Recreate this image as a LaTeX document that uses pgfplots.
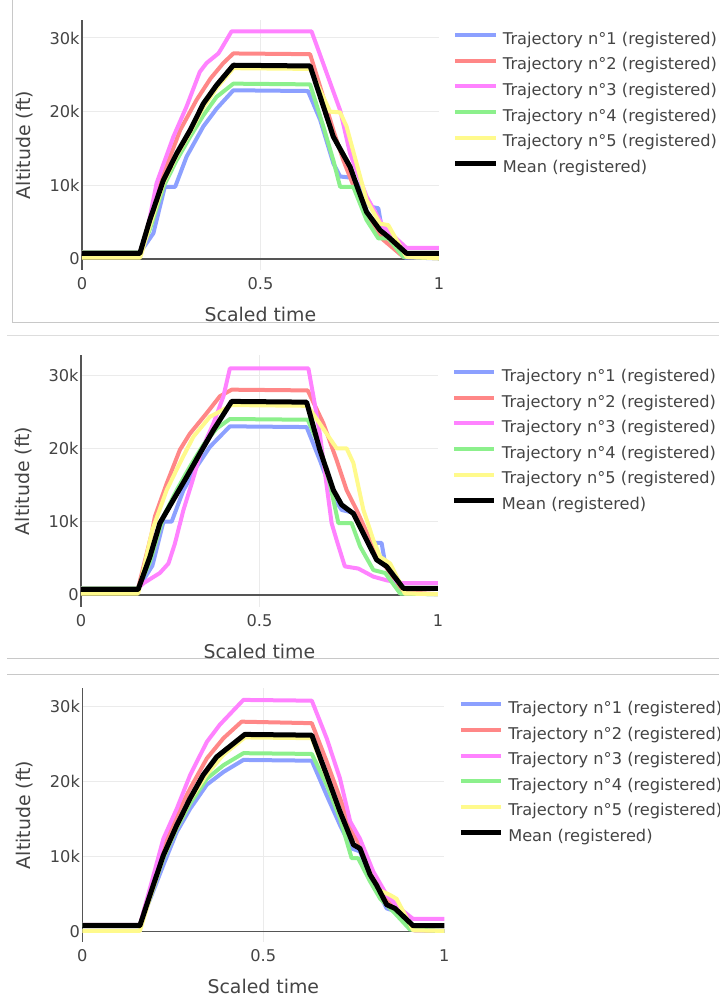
\documentclass[border=0pt]{standalone}
\usepackage{fontspec}
\setmainfont{DejaVu Sans}
\usepackage{pgfplots}
\pgfplotsset{compat=1.18}

\definecolor{textgray}{HTML}{444444}
\definecolor{axisgray}{HTML}{555555}
\definecolor{gridgray}{HTML}{EBEBEB}
\definecolor{framegray}{HTML}{C8C8C8}
\definecolor{framelight}{HTML}{DDDDDD}
\definecolor{tblue}{RGB}{140,160,255}
\definecolor{tred}{RGB}{255,135,135}
\definecolor{tmag}{RGB}{255,130,255}
\definecolor{tgreen}{RGB}{140,240,140}
\definecolor{tyellow}{RGB}{255,250,140}

\newcommand\tickfont{\fontsize{8.1}{9.7}\selectfont}
\newcommand\labelfont{\fontsize{9.45}{11.3}\selectfont}

\pgfplotsset{
  panel/.style={
    scale only axis, xmin=0, xmax=1,
    axis lines*=left,
    x axis line style={draw=none},
    y axis line style={draw=axisgray, line width=0.6pt},
    xtick={0,0.5,1}, xticklabels={0,0.5,1},
    ytick={0,10,20,30}, yticklabels={0,10k,20k,30k},
    major tick length=0pt,
    ymajorgrids, grid style={draw=gridgray, line width=0.5pt},
    extra x ticks={0.5}, extra x tick labels={},
    extra x tick style={grid=major},
    extra y ticks={0}, extra y tick labels={},
    extra y tick style={grid=major, major grid style={draw=axisgray, line width=0.6pt}},
    ticklabel style={font=\tickfont, text=textgray},
    yticklabel style={anchor=east, inner sep=0pt, xshift=-1pt},
    xticklabel style={anchor=center, inner sep=0pt, yshift=-7pt},
    xlabel={Scaled time}, ylabel={Altitude (ft)},
    xlabel style={at={(axis description cs:0.5,0)}, anchor=center, yshift=-22pt, font=\labelfont, text=textgray},
    ylabel style={at={(axis description cs:-0.16,0.5)}, anchor=center, font=\labelfont, text=textgray},
    legend style={at={(axis description cs:1,1)}, anchor=north west, xshift=7pt, yshift=-6.2pt,
      draw=none, fill=none, inner sep=0pt, outer sep=0pt, row sep=4.8pt, font=\tickfont,
      nodes={inner sep=0pt, text height=6pt, text depth=2pt, text=textgray},
      /tikz/every odd column/.append style={column sep=2.5pt}},
    legend cell align=left,
    legend image code/.code={\draw[#1, line cap=butt] (0pt,2.6pt) -- (20pt,2.6pt);},
    every axis plot/.append style={line join=round, line cap=round},
    tb/.style={tblue, line width=2pt},
    tr/.style={tred, line width=2pt},
    tm/.style={tmag, line width=2pt},
    tg/.style={tgreen, line width=2pt},
    ty/.style={tyellow, line width=2pt},
    tk/.style={black, line width=2.5pt},
  }
}

\begin{document}
\begin{tikzpicture}
% panel frames
\draw[framegray, line width=0.5pt] (6pt,499pt) -- (6pt,337.5pt) -- (359.5pt,337.5pt);
\draw[framelight, line width=0.5pt] (3.5pt,331pt) -- (359.5pt,331pt);
\draw[framegray, line width=0.5pt] (3.5pt,169.5pt) -- (359.5pt,169.5pt);
\draw[framegray, line width=0.5pt] (3.5pt,161.5pt) -- (359.5pt,161.5pt);

% panel 1
\begin{axis}[panel, at={(41pt,364pt)}, anchor=south west,
  width=178.5pt, height=125pt, ymin=-1.49, ymax=32.44]
\addplot[tb] coordinates {(0,0.9)(0.163,0.9)(0.2,3.5)(0.232,9.8)(0.261,9.8)(0.293,13.9)(0.34,18)(0.377,20.4)(0.424,22.9)(0.633,22.8)(0.667,18.9)(0.704,13)(0.723,11.2)(0.76,11)(0.774,10)(0.807,7.1)(0.83,6.9)(0.839,4.4)(0.867,2.6)(0.905,0.2)(1,0.1)};
\addplot[tr] coordinates {(0,0.9)(0.163,0.9)(0.2,7)(0.228,11.5)(0.275,17.5)(0.321,21.6)(0.36,24.5)(0.396,26.6)(0.424,27.9)(0.639,27.8)(0.667,23.4)(0.704,17.5)(0.732,13.4)(0.769,8.9)(0.797,5.7)(0.844,2.6)(0.9,0.3)(1,0.1)};
\addplot[tm] coordinates {(0,0.9)(0.163,0.9)(0.181,3.5)(0.209,10.3)(0.256,16.6)(0.293,20.7)(0.33,25.4)(0.349,26.6)(0.382,27.9)(0.391,28.6)(0.419,30.9)(0.643,30.9)(0.723,20.2)(0.751,14.3)(0.797,8.5)(0.844,4.4)(0.909,1.5)(1,1.5)};
\addplot[tg] coordinates {(0,0.9)(0.163,0.9)(0.19,4)(0.228,9.8)(0.265,13.4)(0.303,16.6)(0.34,19.5)(0.377,22)(0.424,23.8)(0.639,23.7)(0.676,18)(0.704,13.4)(0.723,9.8)(0.76,9.8)(0.797,5.3)(0.83,2.8)(0.858,2.8)(0.9,0.3)(1,0.1)};
\addplot[ty] coordinates {(0,0.2)(0.163,0.2)(0.19,4.5)(0.228,10.3)(0.265,14)(0.303,17.2)(0.34,20.6)(0.377,23.2)(0.424,25.9)(0.639,25.8)(0.695,20)(0.723,19.9)(0.741,18)(0.779,11.2)(0.797,8)(0.835,4.8)(0.858,4.6)(0.881,2.6)(0.909,0.3)(1,0.1)};
\addplot[tk] coordinates {(0,0.75)(0.162,0.75)(0.19,5.3)(0.228,10.7)(0.265,14.3)(0.303,17.5)(0.34,21.1)(0.377,23.6)(0.424,26.3)(0.639,26.2)(0.704,16.6)(0.751,12.5)(0.774,9.4)(0.797,6.4)(0.835,3.9)(0.858,3.0)(0.909,0.77)(1,0.77)};
\legend{Trajectory n°1 (registered),Trajectory n°2 (registered),Trajectory n°3 (registered),Trajectory n°4 (registered),Trajectory n°5 (registered),Mean (registered)}
\end{axis}

% panel 2
\begin{axis}[panel, at={(40.5pt,195.5pt)}, anchor=south west,
  width=178.5pt, height=126pt, ymin=-1.64, ymax=32.73,
  legend style={yshift=-1pt}]
\addplot[tb] coordinates {(0,0.9)(0.16,0.9)(0.2,4)(0.231,10)(0.254,10)(0.287,14.3)(0.324,17.5)(0.361,20.2)(0.417,23)(0.632,22.9)(0.669,18.4)(0.707,13.4)(0.73,11.6)(0.772,11.1)(0.8,8)(0.824,7.1)(0.842,7.1)(0.852,4.3)(0.88,2.5)(0.905,0.2)(1,0.1)};
\addplot[tr] coordinates {(0,0.9)(0.16,0.9)(0.198,8.4)(0.207,10.7)(0.24,15.2)(0.277,19.8)(0.305,22)(0.352,24.8)(0.389,27.1)(0.422,28)(0.635,27.9)(0.679,23.4)(0.716,18.4)(0.744,14.3)(0.772,11.6)(0.81,7.5)(0.847,4.3)(0.903,0.4)(1,0.1)};
\addplot[tm] coordinates {(0,0.9)(0.16,0.9)(0.175,1.6)(0.221,3)(0.245,4.3)(0.263,7)(0.287,11.6)(0.31,15.2)(0.338,19.8)(0.371,23.4)(0.399,27.1)(0.417,30.9)(0.637,30.9)(0.651,27.1)(0.669,22)(0.702,9.8)(0.716,7.5)(0.739,3.9)(0.777,3.6)(0.819,2.5)(0.856,2)(0.903,1.6)(1,1.6)};
\addplot[tg] coordinates {(0,0.9)(0.16,0.9)(0.193,4.5)(0.231,10.7)(0.268,14.3)(0.305,17.5)(0.343,20.5)(0.38,22.7)(0.417,24)(0.635,23.9)(0.669,20.2)(0.697,15.2)(0.721,9.8)(0.758,9.8)(0.782,6.6)(0.819,3.4)(0.852,3)(0.894,0.2)(1,0.1)};
\addplot[ty] coordinates {(0,0.2)(0.16,0.2)(0.2,8.9)(0.24,14.3)(0.277,18)(0.315,21.6)(0.361,24.3)(0.422,25.9)(0.635,25.8)(0.688,22)(0.716,20)(0.744,20)(0.763,18)(0.791,11.6)(0.819,7.5)(0.838,5.2)(0.866,4.3)(0.894,1.6)(0.907,0.2)(1,0.1)};
\addplot[tk] coordinates {(0,0.75)(0.16,0.75)(0.193,5.2)(0.221,9.8)(0.259,13)(0.296,16.1)(0.333,19.3)(0.371,22.5)(0.422,26.4)(0.632,26.3)(0.669,19.8)(0.707,14.3)(0.73,12.3)(0.763,11.1)(0.8,7.5)(0.828,4.8)(0.856,3.9)(0.903,0.9)(1,0.9)};
\legend{Trajectory n°1 (registered),Trajectory n°2 (registered),Trajectory n°3 (registered),Trajectory n°4 (registered),Trajectory n°5 (registered),Mean (registered)}
\end{axis}

% panel 3
\begin{axis}[panel, at={(41.15pt,28pt)}, anchor=south west,
  width=181pt, height=127pt, ymin=-1.37, ymax=32.49,
  legend style={yshift=-0.6pt}]
\addplot[tb] coordinates {(0,0.9)(0.159,0.9)(0.187,4.3)(0.224,8.9)(0.261,13.3)(0.298,16.4)(0.344,19.6)(0.39,21.3)(0.445,22.9)(0.634,22.8)(0.675,18.2)(0.712,14.2)(0.744,11.1)(0.767,10.7)(0.795,7.3)(0.841,3.1)(0.868,2.7)(0.914,0.2)(1,0.1)};
\addplot[tr] coordinates {(0,0.9)(0.159,0.9)(0.187,5.5)(0.224,11.6)(0.261,15.6)(0.298,19.1)(0.344,23.1)(0.39,25.8)(0.44,28)(0.634,27.8)(0.675,22.7)(0.712,17.8)(0.749,12.9)(0.767,11.6)(0.804,7.6)(0.841,4.4)(0.877,2.2)(0.914,0.2)(1,0.1)};
\addplot[tm] coordinates {(0,0.9)(0.159,0.9)(0.187,5.8)(0.224,12.4)(0.261,16.4)(0.298,20.9)(0.344,25.3)(0.38,27.6)(0.445,30.9)(0.634,30.8)(0.675,25.8)(0.712,20.4)(0.74,14.7)(0.767,12.4)(0.804,8)(0.841,4.9)(0.877,3.1)(0.914,1.7)(1,1.7)};
\addplot[tg] coordinates {(0,0.9)(0.159,0.9)(0.187,4.5)(0.224,9.8)(0.261,13.8)(0.298,17.1)(0.344,20.4)(0.39,22.2)(0.445,23.8)(0.634,23.7)(0.675,19.6)(0.712,15.1)(0.744,9.8)(0.762,9.8)(0.795,6.7)(0.823,4.4)(0.859,2.7)(0.905,0.3)(1,0.1)};
\addplot[ty] coordinates {(0,0.1)(0.159,0.1)(0.187,4.5)(0.224,10)(0.261,14)(0.298,17.6)(0.344,21)(0.39,23.6)(0.449,25.9)(0.634,25.8)(0.675,20.6)(0.712,15.8)(0.749,11.6)(0.767,11.2)(0.795,7.8)(0.823,5.5)(0.85,4.9)(0.868,4.4)(0.914,0.2)(1,0.1)};
\addplot[tk] coordinates {(0,0.8)(0.159,0.8)(0.187,4.9)(0.224,10.2)(0.261,14.2)(0.298,17.8)(0.334,20.9)(0.371,23.3)(0.449,26.3)(0.634,26.2)(0.675,20.9)(0.712,16)(0.749,11.6)(0.767,11.1)(0.795,7.6)(0.813,6.2)(0.841,3.6)(0.864,3.1)(0.914,0.8)(1,0.8)};
\legend{Trajectory n°1 (registered),Trajectory n°2 (registered),Trajectory n°3 (registered),Trajectory n°4 (registered),Trajectory n°5 (registered),Mean (registered)}
\end{axis}

\pgfresetboundingbox
\path[use as bounding box] (0pt,0pt) rectangle (359.5pt,499pt);
\end{tikzpicture}
\end{document}
